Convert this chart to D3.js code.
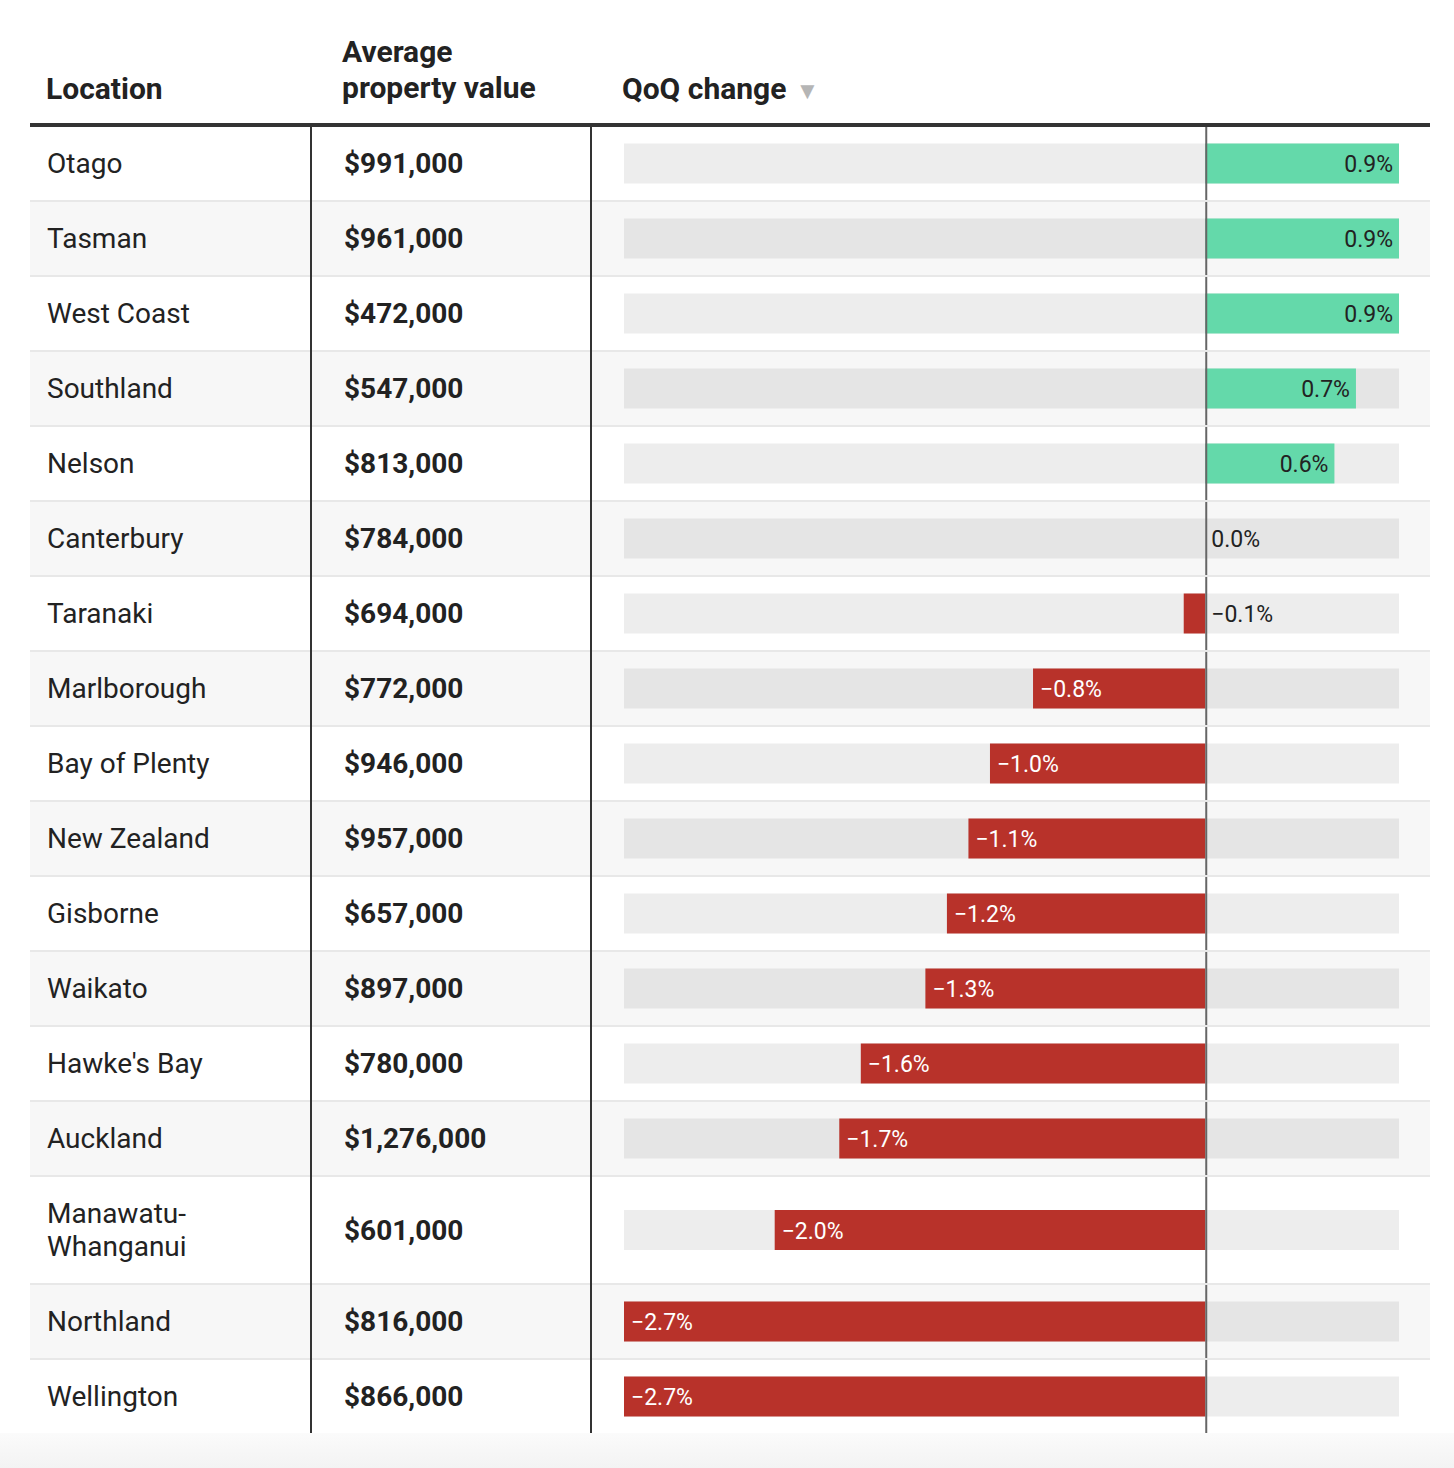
<!DOCTYPE html>
<html>
<head>
<meta charset="utf-8">
<script src="https://cdn.jsdelivr.net/npm/d3@7"></script>
<style>
  html, body { margin: 0; padding: 0; background: #fff; }
  svg { display: block; font-family: Roboto, "Noto Sans", sans-serif; }
</style>
</head>
<body>
<script>
// ---- data ----
const locations = ["Otago", "Tasman", "West Coast", "Southland", "Nelson", "Canterbury", "Taranaki",
  "Marlborough", "Bay of Plenty", "New Zealand", "Gisborne", "Waikato", "Hawke's Bay", "Auckland",
  "Manawatu-\nWhanganui", "Northland", "Wellington"];
const propertyValues = [991000, 961000, 472000, 547000, 813000, 784000, 694000, 772000, 946000,
  957000, 657000, 897000, 780000, 1276000, 601000, 816000, 866000];
const qoqChange = [0.9, 0.9, 0.9, 0.7, 0.6, 0.0, -0.1, -0.8, -1.0, -1.1, -1.2, -1.3, -1.6, -1.7, -2.0, -2.7, -2.7];
const headers = [["Location"], ["Average", "property value"], ["QoQ change"]];

// ---- layout ----
const W = 1454, H = 1468;
const tableL = 30, tableR = 1430;
const col1 = 311, col2 = 591;
const headerBottom = 125;
const baseRowH = 75, extraLineH = 33;

const svg = d3.select("body").append("svg").attr("width", W).attr("height", H);

const defs = svg.append("defs");
const grad = defs.append("linearGradient").attr("id", "bg").attr("x1", 0).attr("y1", 0).attr("x2", 0).attr("y2", 1);
grad.append("stop").attr("offset", "0%").attr("stop-color", "#fbfbfb");
grad.append("stop").attr("offset", "100%").attr("stop-color", "#f3f3f3");

const rows = locations.map((loc, i) => ({
  loc, lines: loc.split("\n"), value: propertyValues[i], change: qoqChange[i], i
}));
let yAcc = headerBottom;
rows.forEach(r => {
  r.y0 = yAcc;
  r.h = baseRowH + (r.lines.length - 1) * extraLineH;
  r.cy = r.y0 + 2 + (r.h - 2) / 2;
  yAcc += r.h;
});
const tableBottom = yAcc;

svg.append("rect").attr("x", 0).attr("y", tableBottom).attr("width", W).attr("height", H - tableBottom)
  .attr("fill", "url(#bg)");

const x = d3.scaleLinear().domain([d3.min(qoqChange), d3.max(qoqChange)]).range([624, 1399]);
const barH = 40;
const fmtPct = d3.format(".1f");
const fmtMoney = d3.format("$,.0f");

const rowG = svg.append("g").selectAll("g").data(rows).join("g");
rowG.append("rect")
  .attr("x", tableL).attr("width", tableR - tableL)
  .attr("y", d => d.y0).attr("height", d => d.h)
  .attr("fill", d => d.i % 2 ? "#f7f7f7" : "#ffffff");
rowG.filter(d => d.i > 0).append("rect")
  .attr("x", tableL).attr("width", tableR - tableL)
  .attr("y", d => d.y0).attr("height", 2)
  .attr("fill", "#e8e8e8");

[col1, col2].forEach(cx => {
  svg.append("line").attr("x1", cx).attr("x2", cx)
    .attr("y1", headerBottom).attr("y2", tableBottom)
    .attr("stroke", "#333").attr("stroke-width", 2);
});

rowG.append("text")
  .attr("x", 47)
  .attr("font-size", 28).attr("fill", "#222")
  .each(function (d) {
    const t = d3.select(this);
    const n = d.lines.length;
    d.lines.forEach((ln, k) => {
      t.append("tspan").attr("x", 47)
        .attr("y", d.cy + (k - (n - 1) / 2) * extraLineH)
        .attr("dy", "0.35em").text(ln);
    });
  });

rowG.append("text")
  .attr("x", 344).attr("y", d => d.cy).attr("dy", "0.35em")
  .attr("font-size", 28).attr("font-weight", 700).attr("fill", "#222")
  .text(d => fmtMoney(d.value));

rowG.append("rect")
  .attr("x", x.range()[0]).attr("width", x.range()[1] - x.range()[0])
  .attr("y", d => d.cy - barH / 2).attr("height", barH)
  .attr("fill", "rgba(0,0,0,0.07)");

rowG.append("rect")
  .attr("x", d => Math.min(x(0), x(d.change)))
  .attr("width", d => Math.abs(x(d.change) - x(0)))
  .attr("y", d => d.cy - barH / 2).attr("height", barH)
  .attr("fill", d => d.change >= 0 ? "#64d9aa" : "#b8322a");

rowG.append("line")
  .attr("x1", x(0) + 1).attr("x2", x(0) + 1)
  .attr("y1", d => d.y0 + (d.i > 0 ? 2 : 0)).attr("y2", d => d.y0 + d.h)
  .attr("stroke", "#666").attr("stroke-width", 2);

rowG.append("text")
  .attr("font-size", 23)
  .attr("y", d => d.cy).attr("dy", "0.37em")
  .each(function (d) {
    const t = d3.select(this);
    const label = fmtPct(d.change) + "%";
    const w = Math.abs(x(d.change) - x(0));
    const inside = w > 75;
    if (d.change > 0 && inside) {
      t.attr("x", x(d.change) - 6).attr("text-anchor", "end").attr("fill", "#222");
    } else if (d.change < 0 && inside) {
      t.attr("x", x(d.change) + 7).attr("text-anchor", "start").attr("fill", "#fff");
    } else {
      t.attr("x", x(0) + 6).attr("text-anchor", "start").attr("fill", "#222");
    }
    t.text(label);
  });

const hdr = svg.append("g").attr("font-size", 30).attr("font-weight", 700).attr("fill", "#222");
hdr.append("text").attr("x", 46).attr("y", 88).attr("dy", "0.35em").text(headers[0][0]);
headers[1].forEach((ln, k) => {
  hdr.append("text").attr("x", 342).attr("y", 51 + k * 36).attr("dy", "0.35em").text(ln);
});
const q = hdr.append("text").attr("x", 622).attr("y", 88).attr("dy", "0.35em");
q.append("tspan").text(headers[2][0]);
q.append("tspan").attr("font-size", 24).attr("fill", "#b5b5b5").attr("dx", 9).text("▼");

svg.append("rect").attr("x", tableL).attr("width", tableR - tableL)
  .attr("y", headerBottom - 2).attr("height", 4).attr("fill", "#333");
</script>
</body>
</html>
